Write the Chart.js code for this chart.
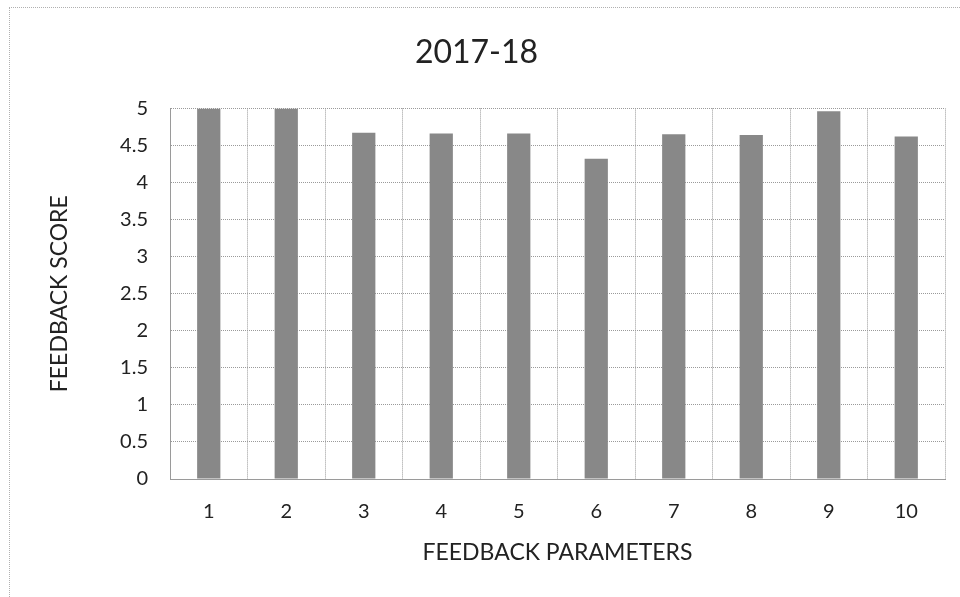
<!DOCTYPE html>
<html>
<head>
<meta charset="utf-8">
<script src="https://cdn.jsdelivr.net/npm/chart.js@4"></script>
<style>
  html, body { margin: 0; padding: 0; background: #fff; }
  #wrap { position: relative; width: 960px; height: 597px; }
  #frame { position: absolute; left: 9px; top: 7px; right: 0; bottom: 0;
           border-left: 1px dotted #b0b0b0; border-top: 1px dotted #b0b0b0; }
</style>
</head>
<body>
<div id="wrap">
  <div id="frame"></div>
  <canvas id="c"></canvas>
</div>
<script>
const categories = ['1', '2', '3', '4', '5', '6', '7', '8', '9', '10'];
const scores     = [5, 5, 4.67, 4.66, 4.66, 4.32, 4.65, 4.64, 4.96, 4.62];

const FONT = 'Lato, "Open Sans", sans-serif';
const INK  = '#222';
// dotted grid, like the printed original (v4 takes the dash from border)
const gridOpts   = { color: '#9a9a9a', lineWidth: 1, drawTicks: false };
const borderOpts = { display: true, color: '#9a9a9a', dash: [1, 1] };

new Chart(document.getElementById('c'), {
    type: 'bar',
    data: {
        labels: categories,
        datasets: [{
            data: scores,
            backgroundColor: '#888888',
            borderWidth: 0,
            barPercentage: 0.3,
            categoryPercentage: 1
        }]
    },
    options: {
        responsive: true,
        maintainAspectRatio: false,
        animation: false,
        layout: { padding: { left: 8, right: 15, top: 0, bottom: 0 } },
        plugins: {
            legend: { display: false },
            tooltip: { enabled: false },
            title: {
                display: true, text: '2017-18', color: INK,
                font: { family: FONT, size: 32, weight: 'normal' },
                padding: { top: 33, bottom: 37 }
            }
        },
        scales: {
            x: {
                grid: gridOpts,
                border: borderOpts,
                ticks: { color: INK, font: { family: FONT, size: 20 }, padding: 21 },
                title: {
                    display: true, text: 'FEEDBACK PARAMETERS', color: INK,
                    font: { family: FONT, size: 23 }, padding: { top: 0, bottom: 31 }
                },
                afterFit: s => { s.height = 118; }
            },
            y: {
                min: 0, max: 5,
                grid: gridOpts,
                border: borderOpts,
                ticks: {
                    stepSize: 0.5, color: INK, padding: 22,
                    font: { family: FONT, size: 20 },
                    callback: v => String(v)
                },
                title: {
                    display: true, text: 'FEEDBACK SCORE', color: INK,
                    font: { family: FONT, size: 23 }, padding: { top: 38, bottom: 0 }
                },
                afterFit: s => { s.width = 162; }
            }
        }
    }
});
</script>
</body>
</html>
